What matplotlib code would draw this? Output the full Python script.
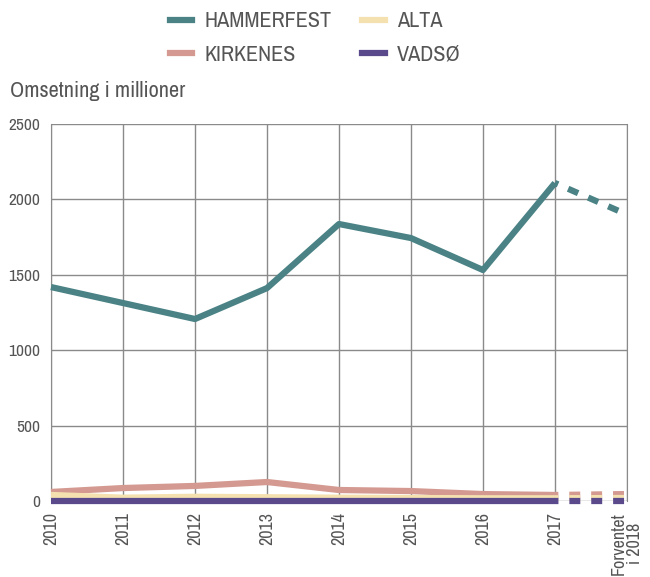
import numpy as np
import matplotlib.pyplot as plt
from matplotlib import font_manager as fm

names = sorted({f.name for f in fm.fontManager.ttflist})
narrow = [n for n in names if 'Narrow' in n or 'Condensed' in n]
fam = narrow[:1] + ['Roboto', 'DejaVu Sans']
plt.rcParams['font.family'] = fam

years = ['2010', '2011', '2012', '2013', '2014', '2015', '2016', '2017', 'Forventet\ni 2018']
hammerfest = [1419, 1313, 1207, 1412, 1837, 1744, 1532, 2109, 1900]
kirkenes = [60, 86, 100, 126, 73, 66, 46, 40, 46]
alta = [40, 22, 28, 25, 22, 20, 18, 18, 20]
vadso = [2, 2, 2, 2, 2, 2, 2, 2, 2]

series = [('HAMMERFEST', hammerfest, '#4a8285'),
          ('KIRKENES', kirkenes, '#d49a91'),
          ('ALTA', alta, '#f5e1b0'),
          ('VADSØ', vadso, '#5a4a8c')]

fig = plt.figure(figsize=(6.5, 5.77), dpi=100)
ax = fig.add_axes([0.0785, 0.1317, 0.886, 0.6533])
x = np.arange(len(years))
for i in [2, 1, 3, 0]:
    name, vals, col = series[i]
    ax.plot(x[:8], vals[:8], color=col, lw=4.5, solid_capstyle='butt', clip_on=False, zorder=3 + i)
    ax.plot(x[7:], vals[7:], color=col, lw=4.5, ls=(1.2, (1.75, 1.75)), dash_capstyle='butt',
            clip_on=False, zorder=3 + i)

handles = [plt.Line2D([], [], color=c, lw=4.5) for _, _, c in series]
labels = [n for n, _, _ in series]
fig.legend(handles, labels, ncol=2, loc='upper center',
           bbox_to_anchor=(0.485, 1.015), frameon=False, fontsize=16, handlelength=1.0,
           columnspacing=1.4, labelcolor='#555555', handletextpad=0.55, labelspacing=0.6)

ax.set_xlim(0, 8)
ax.set_ylim(0, 2500)
ax.set_xticks(x)
ax.set_xticklabels(years, rotation=90, fontsize=13, color='#555555', va='top', ha='center',
                   linespacing=1.0)
ax.set_yticks([0, 500, 1000, 1500, 2000, 2500])
ax.tick_params(length=0, pad=8)
ax.tick_params(axis='y', labelsize=12.5, labelcolor='#555555')
ax.grid(True, color='#8a8a8a', lw=1)
for s in ['top', 'bottom']:
    ax.spines[s].set_visible(False)
for s in ['left', 'right']:
    ax.spines[s].set_color('#8a8a8a')
ax.set_axisbelow(True)
fig.text(0.015, 0.832, 'Omsetning i millioner', fontsize=16, color='#555555')

fig.savefig('out.png', dpi=100)
